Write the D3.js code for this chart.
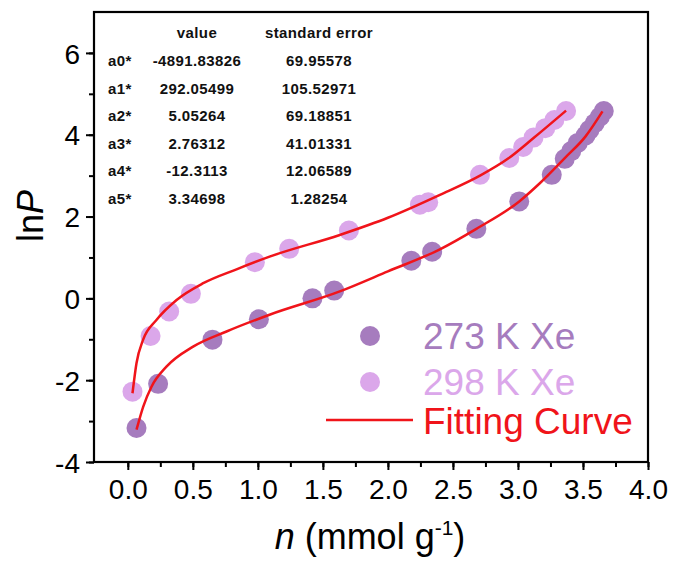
<!DOCTYPE html>
<html>
<head>
<meta charset="utf-8">
<script src="https://cdn.jsdelivr.net/npm/d3@7"></script>
<style>
  body { margin: 0; background: #fff; }
  text { font-family: Arial, "Liberation Sans", sans-serif; }
</style>
</head>
<body>
<svg id="drawing_region"></svg>
<script>
// measured points, 273 K Xe
const n273 = [0.067, 0.233, 0.651, 1.008, 1.42, 1.587, 2.18, 2.34, 2.68, 3.01, 3.26, 3.36, 3.41, 3.46, 3.52, 3.55, 3.59, 3.63, 3.66];
const lnP273 = [-3.17, -2.09, -1.01, -0.51, 0.0, 0.19, 0.92, 1.14, 1.70, 2.37, 3.02, 3.41, 3.60, 3.80, 3.98, 4.12, 4.28, 4.44, 4.58];

// measured points, 298 K Xe
const n298 = [0.036, 0.175, 0.318, 0.485, 0.977, 1.241, 1.70, 2.246, 2.31, 2.708, 2.933, 3.04, 3.12, 3.21, 3.28, 3.37];
const lnP298 = [-2.28, -0.92, -0.32, 0.11, 0.885, 1.21, 1.66, 2.29, 2.35, 3.02, 3.43, 3.70, 3.93, 4.16, 4.36, 4.58];

// fitting curves
const fitN273 = [0.067, 0.118, 0.182, 0.297, 0.502, 0.759, 1.09, 1.63, 2.0, 2.40, 2.68, 3.01, 3.17, 3.36, 3.52, 3.65];
const fitP273 = [-3.21, -2.65, -2.16, -1.67, -1.18, -0.81, -0.40, 0.17, 0.66, 1.20, 1.70, 2.37, 2.82, 3.43, 3.96, 4.57];
const fitN298 = [0.036, 0.067, 0.118, 0.22, 0.375, 0.58, 0.836, 1.09, 1.63, 2.0, 2.40, 2.708, 2.93, 3.12, 3.37];
const fitP298 = [-2.32, -1.58, -1.01, -0.53, -0.04, 0.37, 0.71, 1.02, 1.55, 1.97, 2.53, 3.0, 3.43, 3.92, 4.59];

// parameter table
const paramNames = ['a0*', 'a1*', 'a2*', 'a3*', 'a4*', 'a5*'];
const paramValues = ['-4891.83826', '292.05499', '5.05264', '2.76312', '-12.3113', '3.34698'];
const paramErrors = ['69.95578', '105.52971', '69.18851', '41.01331', '12.06589', '1.28254'];

const xTicks = [0, 0.5, 1.0, 1.5, 2.0, 2.5, 3.0, 3.5, 4.0];
const yTicks = [-4, -2, 0, 2, 4, 6];

const legendLabels = ['273 K Xe', '298 K Xe', 'Fitting Curve'];

const col273 = '#a67cbe';
const col298 = '#dba7ea';
const colFit = '#f0141a';

const width = 673, height = 563;
const margin = {top: 12, right: 25, bottom: 101, left: 94};
const iw = width - margin.left - margin.right;
const ih = height - margin.top - margin.bottom;

const svg = d3.select('#drawing_region')
    .attr('width', width)
    .attr('height', height);

const chart = svg.append('g')
    .attr('transform', `translate(${margin.left}, ${margin.top})`);

const xscale = d3.scaleLinear().domain([-0.26, 4.0]).range([0, iw]);
const yscale = d3.scaleLinear().domain([-4, 7]).range([ih, 0]);

// minor ticks
const xminor = d3.axisBottom(xscale).tickValues(d3.range(0, 4.01, 0.25)).tickSize(5).tickFormat('');
const yminor = d3.axisLeft(yscale).tickValues(d3.range(-4, 7, 1)).tickSize(5).tickFormat('');

chart.append('g').attr('transform', `translate(0, ${ih})`).call(xminor);
chart.append('g').call(yminor);

const xaxis = d3.axisBottom(xscale).tickValues(xTicks).tickSize(8).tickPadding(9)
    .tickFormat(d3.format('.1f'));
const yaxis = d3.axisLeft(yscale).tickValues(yTicks).tickSize(8).tickPadding(6)
    .tickFormat(d => d);

const xg = chart.append('g').attr('transform', `translate(0, ${ih})`).call(xaxis);
const yg = chart.append('g').call(yaxis);

svg.selectAll('.domain').remove();
svg.selectAll('.tick line').attr('stroke', '#000').attr('stroke-width', 2);
xg.selectAll('text').attr('font-size', 28).attr('fill', '#000');
yg.selectAll('text').attr('font-size', 28).attr('fill', '#000').attr('dy', '0.36em');

// frame
chart.append('rect')
    .attr('x', 0).attr('y', 0)
    .attr('width', iw).attr('height', ih)
    .attr('fill', 'none')
    .attr('stroke', '#000')
    .attr('stroke-width', 2.2);

// points
const pts298 = n298.map((d, i) => ({x: d, y: lnP298[i]}));
const pts273 = n273.map((d, i) => ({x: d, y: lnP273[i]}));

chart.append('g').selectAll('circle')
    .data(pts298).join('circle')
    .attr('cx', d => xscale(d.x))
    .attr('cy', d => yscale(d.y))
    .attr('r', 10)
    .attr('fill', col298);

chart.append('g').selectAll('circle')
    .data(pts273).join('circle')
    .attr('cx', d => xscale(d.x))
    .attr('cy', d => yscale(d.y))
    .attr('r', 10)
    .attr('fill', col273);

// fitting curves
const line = d3.line()
    .x(d => xscale(d.x))
    .y(d => yscale(d.y))
    .curve(d3.curveMonotoneX);

[[fitN273, fitP273], [fitN298, fitP298]].forEach(([xs, ys]) => {
    chart.append('path')
        .attr('d', line(xs.map((d, i) => ({x: d, y: ys[i]}))))
        .attr('fill', 'none')
        .attr('stroke', colFit)
        .attr('stroke-width', 2.5);
});

// parameter table
const table = svg.append('g')
    .attr('font-weight', 'bold')
    .attr('font-size', 15)
    .attr('letter-spacing', 0.4)
    .attr('fill', '#111');

table.append('text').attr('x', 197).attr('y', 38).attr('text-anchor', 'middle').text('value');
table.append('text').attr('x', 319).attr('y', 38).attr('text-anchor', 'middle').text('standard error');

paramNames.forEach((p, i) => {
    const y = 66 + i * 27.6;
    table.append('text').attr('x', 108).attr('y', y).text(p);
    table.append('text').attr('x', 197).attr('y', y).attr('text-anchor', 'middle').text(paramValues[i]);
    table.append('text').attr('x', 319).attr('y', y).attr('text-anchor', 'middle').text(paramErrors[i]);
});

// legend
const legend = svg.append('g');
const legendColors = [col273, col298, colFit];
legendLabels.forEach((lab, i) => {
    const cy = 336 + i * 46;
    if (i < 2) {
        legend.append('circle').attr('cx', 370).attr('cy', cy).attr('r', 10).attr('fill', legendColors[i]);
    } else {
        legend.append('line')
            .attr('x1', 326).attr('x2', 413)
            .attr('y1', cy - 8).attr('y2', cy - 8)
            .attr('stroke', colFit).attr('stroke-width', 2.5);
    }
    legend.append('text')
        .attr('x', 423)
        .attr('y', i < 2 ? cy + 13 : cy + 6)
        .attr('font-size', 37)
        .attr('fill', legendColors[i])
        .text(lab);
});

// axis titles
const xt = svg.append('text')
    .attr('x', 370)
    .attr('y', 549)
    .attr('text-anchor', 'middle')
    .attr('font-size', 36)
    .attr('fill', '#000');
xt.append('tspan').attr('font-style', 'italic').text('n');
xt.append('tspan').text(' (mmol g');
xt.append('tspan').attr('font-size', 21).attr('dy', -14).text('-1');
xt.append('tspan').attr('dy', 14).text(')');

const yt = svg.append('text')
    .attr('transform', 'translate(43, 216) rotate(-90)')
    .attr('text-anchor', 'middle')
    .attr('font-size', 36)
    .attr('fill', '#000');
yt.append('tspan').text('ln');
yt.append('tspan').attr('font-style', 'italic').text('P');
</script>
</body>
</html>
